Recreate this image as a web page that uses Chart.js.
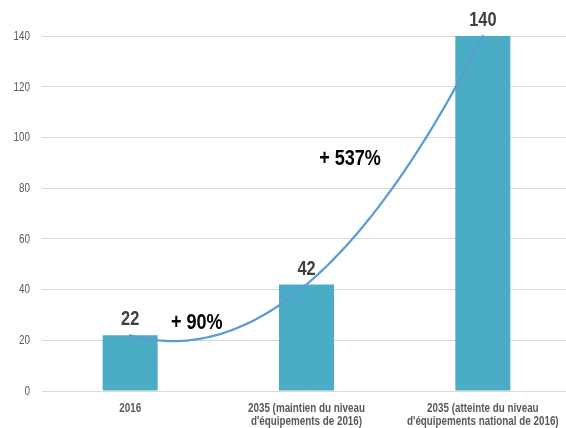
<!DOCTYPE html>
<html>
<head>
<meta charset="utf-8">
<script src="https://cdn.jsdelivr.net/npm/chart.js@4/dist/chart.umd.min.js"></script>
<style>
  html, body { margin: 0; padding: 0; background: #fff; overflow: hidden; }
  #wrap { width: 566px; height: 428px; overflow: hidden; }
</style>
</head>
<body>
<div id="wrap"><canvas id="chart" width="572" height="428"></canvas></div>
<script>
var categories = [
    ['2016'],
    ['2035 (maintien du niveau', "d'équipements de 2016)"],
    ['2035 (atteinte du niveau', "d'équipements national de 2016)"]
];
var values = [22, 42, 140];
var yTicks = [0, 20, 40, 60, 80, 100, 120, 140];
var growthLabels = ['+ 90%', '+ 537%'];
// where each growth label sits, as [category position, value]
var growthAnchors = [[0.378, 26.8], [1.247, 91.7]];

var FONT = "'Liberation Sans', Arial, sans-serif";
var SQUEEZE = 0.82;   // fake a narrow face by compressing horizontally

// second order polynomial through the bar values (Excel style trendline)
function quadFit(ys) {
    var c = (ys[2] - 2 * ys[1] + ys[0]) / 2;
    var b = ys[1] - ys[0] - c;
    var a = ys[0];
    return function (x) { return a + b * x + c * x * x; };
}

function narrowText(ctx, txt, x, y) {
    ctx.save();
    ctx.translate(x, y);
    ctx.scale(SQUEEZE, 1);
    ctx.fillText(txt, 0, 0);
    ctx.restore();
}

var textPlugin = {
    id: 'texts',
    afterDatasetsDraw: function (chart) {
        var ctx = chart.ctx;
        var xs = chart.scales.x, ys = chart.scales.y;
        var area = chart.chartArea;

        // trend curve
        var f = quadFit(values);
        ctx.save();
        ctx.beginPath();
        for (var i = 0; i <= 120; i++) {
            var t = 2 * i / 120;
            var px = xs.getPixelForValue(t), py = ys.getPixelForValue(f(t));
            if (i === 0) ctx.moveTo(px, py); else ctx.lineTo(px, py);
        }
        ctx.strokeStyle = '#5b9bd5';
        ctx.lineWidth = 2.25;
        ctx.lineCap = 'round';
        ctx.stroke();

        // y axis labels
        ctx.font = '12px ' + FONT;
        ctx.fillStyle = '#595959';
        ctx.textAlign = 'right';
        ctx.textBaseline = 'middle';
        yTicks.forEach(function (v) {
            narrowText(ctx, String(v), 30, ys.getPixelForValue(v) + 0.5);
        });

        // category labels
        ctx.font = 'bold 12px ' + FONT;
        ctx.textAlign = 'center';
        ctx.textBaseline = 'alphabetic';
        categories.forEach(function (lines, k) {
            lines.forEach(function (ln, j) {
                narrowText(ctx, ln, xs.getPixelForValue(k), area.bottom + 21 + j * 13);
            });
        });

        // value labels above bars
        var meta = chart.getDatasetMeta(0);
        ctx.font = 'bold 20px ' + FONT;
        ctx.fillStyle = '#404040';
        meta.data.forEach(function (bar, k) {
            narrowText(ctx, String(values[k]), bar.x, bar.y - 10);
        });

        // growth annotations
        ctx.font = 'bold 22px ' + FONT;
        ctx.fillStyle = '#000';
        ctx.textBaseline = 'middle';
        growthLabels.forEach(function (txt, k) {
            var p = growthAnchors[k];
            narrowText(ctx, txt, xs.getPixelForValue(p[0]), ys.getPixelForValue(p[1]));
        });
        ctx.restore();
    }
};

new Chart(document.getElementById('chart'), {
    type: 'bar',
    data: {
        labels: categories.map(function (l) { return l.join(' '); }),
        datasets: [{
            data: values,
            backgroundColor: '#4bacc6',
            barPercentage: 0.312,
            categoryPercentage: 1
        }]
    },
    options: {
        responsive: false,
        animation: false,
        layout: { padding: { top: 36, left: 42, right: 1, bottom: 29 } },
        plugins: {
            legend: { display: false },
            tooltip: { enabled: false }
        },
        scales: {
            x: {
                grid: { display: false },
                border: { display: false },
                ticks: { display: false }
            },
            y: {
                min: 0,
                max: 140,
                afterBuildTicks: function (axis) {
                    axis.ticks = yTicks.map(function (v) { return { value: v }; });
                },
                grid: { color: '#d9d9d9', lineWidth: 1, drawTicks: false },
                border: { display: false },
                ticks: { display: false }
            }
        }
    },
    plugins: [textPlugin]
});
</script>
</body>
</html>
